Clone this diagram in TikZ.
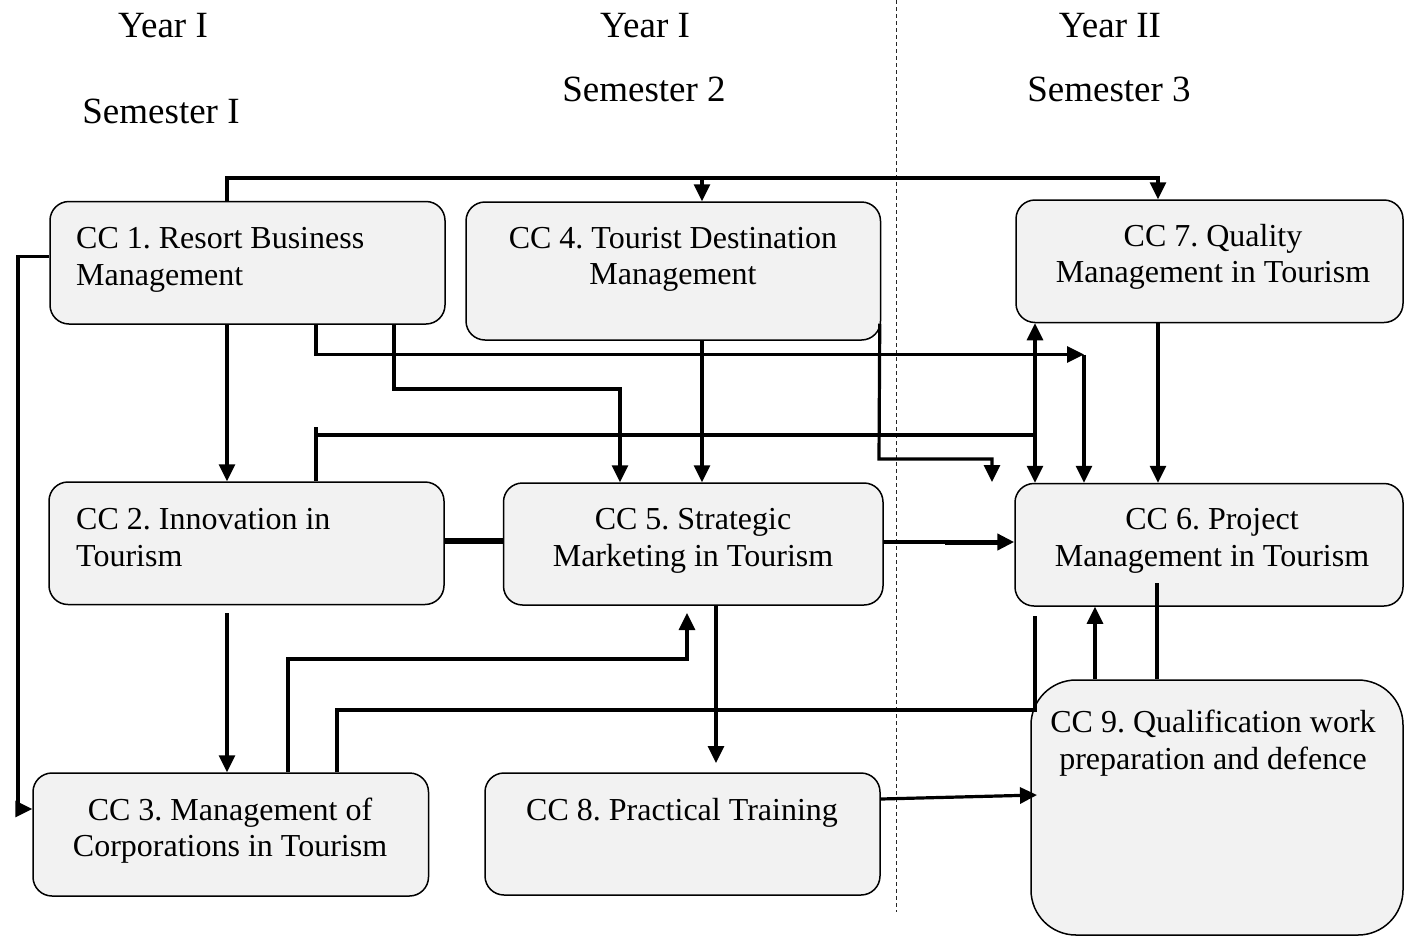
\documentclass[tikz,border=0pt]{standalone}
\usepackage{fontspec}
\setmainfont{Liberation Serif}
\usetikzlibrary{arrows.meta,calc}
\definecolor{boxgray}{HTML}{F2F2F2}
\frenchspacing
\begin{document}
\begin{tikzpicture}[x=1pt,y=-1pt,
  box/.style={draw=black, line width=1.5pt, fill=boxgray, rounded corners=19pt, inner sep=0pt},
  txt/.style={font=\fontsize{32}{36.7}\selectfont\frenchspacing, inner sep=0pt},
  ttl/.style={font=\fontsize{37}{42}\selectfont, inner sep=0pt, anchor=base},
  conn/.style={line width=3.2pt},
  arr/.style={conn, -{Triangle[length=17pt,width=16pt]}},
  dashln/.style={line width=1.1pt, black!85, dash pattern=on 4pt off 3pt}]
\useasboundingbox (0,0) rectangle (1405,937);
\draw[dashln] (896.5,0) -- (896.5,912);
% titles
\node[ttl] (y1) at (163,37) {Year I};
\node[ttl] (s1) at (161,123.5) {Semester I};
\node[ttl] (y2) at (645,37) {Year I};
\node[ttl] (s2) at (644,101.5) {Semester 2};
\node[ttl] (y3) at (1110,37) {Year II};
\node[ttl] (s3) at (1109,101.5) {Semester 3};
% boxes
\node[box, minimum width=395pt, minimum height=122.5pt] (cc1) at (247.5,262.75) {};
\node[box, minimum width=414.5pt, minimum height=138pt] (cc4) at (673.25,271) {};
\node[box, minimum width=387pt, minimum height=122.5pt] (cc7) at (1209.5,261.25) {};
\node[box, minimum width=395pt, minimum height=122.5pt] (cc2) at (246.5,543.25) {};
\node[box, minimum width=379.5pt, minimum height=122pt] (cc5) at (693.25,544) {};
\node[box, minimum width=388pt, minimum height=122.5pt] (cc6) at (1209,544.75) {};
\node[box, minimum width=395.5pt, minimum height=123pt] (cc3) at (230.75,834.5) {};
\node[box, minimum width=395pt, minimum height=122pt] (cc8) at (682.5,834) {};
\node[box, rounded corners=45pt, minimum width=372pt, minimum height=255pt] (cc9) at (1217,807.5) {};
% texts (base = baseline of the last line)
\node[txt, anchor=base west, align=left] (t1) at (76,285.2) {CC 1. Resort Business\\Management};
\node[txt, anchor=base, align=center] (t4) at (673,284.7) {CC 4. Tourist Destination\\Management};
\node[txt, anchor=base, align=center] (t7) at (1213,282.7) {CC 7. Quality\\Management in Tourism};
\node[txt, anchor=base west, align=left] (t2) at (76,566.2) {CC 2. Innovation in\\Tourism};
\node[txt, anchor=base, align=center] (t5) at (693,566.2) {CC 5. Strategic\\Marketing in Tourism};
\node[txt, anchor=base, align=center] (t6) at (1212,566.2) {CC 6. Project\\Management in Tourism};
\node[txt, anchor=base, align=center] (t3) at (230,856.7) {CC 3. Management of\\Corporations in Tourism};
\node[txt, anchor=base] (t8) at (682,820) {CC 8. Practical Training};
\node[txt, anchor=base, align=center] (t9) at (1213,769.2) {CC 9. Qualification work\\preparation and defence};
% coordinates for free ends
\coordinate (j435) at (1035,435);
\coordinate (j355) at (1084,354.5);
% connectors
\draw[arr] (cc1.west |- 0,256.5) -- (18,256.5) -- (18,809) -- (cc3.west |- 0,809);
\draw[arr] (227,0 |- cc1.north) -- (227,178) -- (1158,178) -- (1158,0 |- cc7.north);
\draw[arr] (702,178) -- (702,0 |- cc4.north);
\draw[arr] (227,0 |- cc1.south) -- (227,0 |- cc2.north);
\draw[arr] (316,0 |- cc1.south) -- (316,354.5) -- (j355);
\draw[arr] (j355) -- (1084,0 |- cc6.north);
\draw[arr] (394,0 |- cc1.south) -- (394,389) -- (620,389) -- (620,0 |- cc5.north);
\draw[arr] (702,0 |- cc4.south) -- (702,0 |- cc5.north);
\draw[arr] ($(cc4.south east)+(-1.5,-17)$) -- (879,459) -- (992,459) -- (992,482);
\draw[conn] (316,427) -- (316,0 |- cc2.north);
\draw[conn] (316,435) -- (j435);
\draw[arr] (j435) -- (1035,0 |- cc7.south);
\draw[arr] (j435) -- (1035,0 |- cc6.north);
\draw[arr] (1158,0 |- cc7.south) -- (1158,0 |- cc6.north);
\draw[line width=5.5pt] (cc2.east |- 0,541) -- (cc5.west |- 0,541);
\draw[conn] (cc5.east |- 0,542) -- (945,542);
\draw[arr, line width=5pt] (945,542) -- (cc6.west |- 0,542);
\draw[arr] (227,613) -- (227,0 |- cc3.north);
\draw[arr] (288,0 |- cc3.north) -- (288,659) -- (687,659) -- (687,613);
\draw[conn] (337,0 |- cc3.north) -- (337,710) -- (1035,710) -- (1035,616);
\draw[arr] (716,0 |- cc5.south) -- (716,763);
\draw[arr] (1095,0 |- cc9.north) -- (1095,0 |- cc6.south);
\draw[conn] (1157,583) -- (1157,0 |- cc9.north);
\draw[arr] (cc8.east |- 0,799) -- (1037,795);
\end{tikzpicture}
\end{document}
